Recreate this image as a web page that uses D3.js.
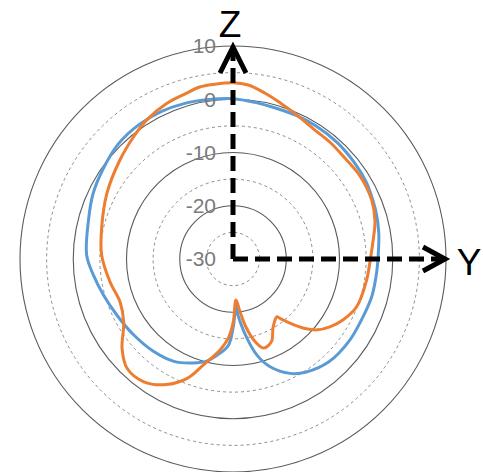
<!DOCTYPE html>
<html>
<head>
<meta charset="utf-8">
<script src="https://cdn.jsdelivr.net/npm/d3@7"></script>
<style>
body { margin: 0; background: #fff; }
</style>
</head>
<body>
<svg width="483" height="472"></svg>
<script>
// radial ticks (dB)
const tickLabels = [10, 0, -10, -20, -30];
const majorRings = [10, 0, -10, -20];
const minorRings = [5, -5, -15, -25];

// angle in degrees, clockwise from Z (top)
const blueAngles = [0, 8, 16, 24, 32, 42, 52, 60, 67, 73, 80, 86, 95, 105, 115, 125, 137, 147, 153.5, 161, 166, 170,
  173.6, 175.9, 176.8, 178, 180, 183, 188, 194.5, 201, 210, 221, 233, 244, 254.5, 263.5, 271.6, 285, 295, 305, 315,
  325, 334, 342.5, 350.6];
const blueValues = [0.1, -0.3, -0.55, -0.55, -0.55, -0.65, -0.9, -1.1, -1.5, -1.8, -2.2, -2.6, -2.9, -3.0, -3.3, -3.3, -3.6, -4.7, -6.0, -8.6, -11.4, -14.9,
  -18.2, -20.4, -21.6, -19.8, -17, -13.8, -12.1, -10.2, -9.1, -7.8, -7.1, -6.5, -5.8, -4.75, -3.6, -2.5, -1.9, -1.0, -0.3, 0.5,
  0.8, 0.8, 0.6, 0.3];

const orangeAngles = [0, 5, 11, 17, 23, 32, 40, 47, 57, 67, 75, 82, 90, 99, 111, 119, 125, 130, 134, 138.4, 141.6, 143, 146.6,
  150, 155, 161, 165, 169, 172.4, 175.8, 179.7, 183.4, 188, 195.7, 201, 208, 216, 224, 231, 240, 249, 259.5, 272,
  284, 297.5, 311, 321, 328, 337, 344, 349, 354];
const orangeValues = [3.1, 2.8, 1.7, 0.6, -0.3, -1.3, -1.5, -1.7, -1.5, -1.7, -2.4, -3.4, -4.2, -4.6, -5.1, -6.4, -7.8, -9.3, -11.2, -13.9, -15.8, -16.4, -15.85,
  -15.0, -12.9, -12.3, -13.9, -16.8, -20.0, -22.3, -18.2, -15.1, -12.8, -9.3, -6.0, -3.3, -1.5, -1.4, -3.2, -6.3, -7.3, -6.5, -5.3,
  -4.6, -3.3, -1.8, -0.4, 0.7, 1.75, 2.3, 2.9, 3.0];

const svg = d3.select("svg");
const cx = 233, cy = 259;

const r = d3.scaleLinear().domain([-30, 10]).range([0, 213]);

const g = svg.append("g").attr("transform", `translate(${cx},${cy})`);

// grid rings
g.selectAll(".minor")
  .data(minorRings)
  .enter().append("circle")
  .attr("class", "minor")
  .attr("r", d => r(d))
  .attr("fill", "none")
  .attr("stroke", "#8c8c8c")
  .attr("stroke-width", 1)
  .attr("stroke-dasharray", "3,3");

g.selectAll(".major")
  .data(majorRings)
  .enter().append("circle")
  .attr("class", "major")
  .attr("r", d => r(d))
  .attr("fill", "none")
  .attr("stroke", "#5a5a5a")
  .attr("stroke-width", 1.1);

const line = d3.lineRadial()
  .angle(d => d[0] * Math.PI / 180)
  .radius(d => r(d[1]))
  .curve(d3.curveCatmullRomClosed.alpha(0.5));

g.append("path")
  .datum(d3.zip(blueAngles, blueValues))
  .attr("d", line)
  .attr("fill", "none")
  .attr("stroke", "#5b9bd5")
  .attr("stroke-width", 3);

g.append("path")
  .datum(d3.zip(orangeAngles, orangeValues))
  .attr("d", line)
  .attr("fill", "none")
  .attr("stroke", "#ed7d31")
  .attr("stroke-width", 3);

// tick labels
g.selectAll(".tick")
  .data(tickLabels)
  .enter().append("text")
  .attr("class", "tick")
  .attr("x", -17)
  .attr("y", d => -r(d))
  .attr("dy", "0.35em")
  .attr("text-anchor", "end")
  .attr("fill", "#7a7a7a")
  .attr("font-family", "Liberation Sans, Arial, sans-serif")
  .attr("font-size", 21)
  .text(d => d);

// Z / Y arrows
const tip = r(10) - 1;
g.append("line")
  .attr("x1", 0).attr("y1", 0)
  .attr("x2", 0).attr("y2", -tip + 4)
  .attr("stroke", "#000")
  .attr("stroke-width", 5)
  .attr("stroke-dasharray", "15,7");
g.append("line")
  .attr("x1", 0).attr("y1", 0)
  .attr("x2", tip - 4).attr("y2", 0)
  .attr("stroke", "#000")
  .attr("stroke-width", 5)
  .attr("stroke-dasharray", "15,7");

g.append("polyline")
  .attr("points", [[-13, -tip + 26], [0, -tip], [13, -tip + 26]].join(" "))
  .attr("fill", "none")
  .attr("stroke", "#000")
  .attr("stroke-width", 5);
g.append("polyline")
  .attr("points", [[tip - 22, -12], [tip, 0], [tip - 22, 12]].join(" "))
  .attr("fill", "none")
  .attr("stroke", "#000")
  .attr("stroke-width", 5);

svg.append("text")
  .attr("x", 230).attr("y", 37)
  .attr("text-anchor", "middle")
  .attr("font-family", "Liberation Sans, Arial, sans-serif")
  .attr("font-size", 37)
  .text("Z");
svg.append("text")
  .attr("x", 469).attr("y", 275)
  .attr("text-anchor", "middle")
  .attr("font-family", "Liberation Sans, Arial, sans-serif")
  .attr("font-size", 37)
  .text("Y");
</script>
</body>
</html>
